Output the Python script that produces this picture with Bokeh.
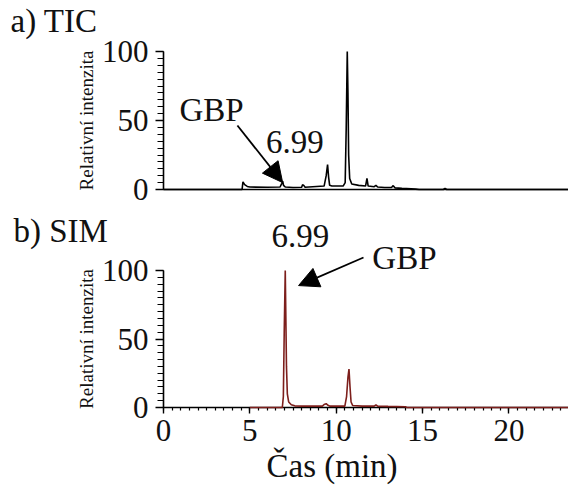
from bokeh.plotting import figure
from bokeh.layouts import column
from bokeh.models import Range1d, Label, Arrow, NormalHead, FixedTicker
from bokeh.embed import file_html
from bokeh.resources import INLINE

# ---- data ----
tic_time = [0.0, 4.55, 4.6, 4.7, 4.85, 5.0, 6.0, 6.75, 6.85, 6.9, 6.95, 7.05, 7.5,
            8.0, 8.05, 8.12, 8.2, 9.3, 9.42, 9.5, 9.56, 9.62, 9.75, 10.4, 10.52,
            10.58, 10.64, 10.68, 10.72, 10.78, 10.9, 11.3, 11.7, 11.78, 11.85,
            12.2, 12.3, 12.4, 12.8, 13.2, 13.3, 13.4, 13.8, 14.6, 14.8, 16.2,
            16.3, 16.4, 23.45]
tic_int = [0.0, 0.0, 5.5, 3.5, 2.2, 1.8, 1.6, 1.8, 4.5, 6.0, 3.0, 1.8, 1.5,
           1.6, 3.5, 3.0, 1.6, 2.5, 10.0, 18.0, 9.0, 3.0, 2.5, 2.5, 5.0,
           45.0, 100.0, 70.0, 25.0, 8.0, 4.0, 3.0, 2.5, 8.0, 2.5,
           2.0, 3.0, 1.8, 1.5, 1.5, 2.8, 1.2, 0.8, 0.3, 0.0, 0.0,
           0.8, 0.0, 0.0]

sim_time = [5.0, 6.88, 6.94, 6.99, 7.05, 7.08, 7.12, 7.17, 7.25, 7.4, 7.6, 8.0,
            9.2, 9.3, 9.42, 9.5, 9.62, 10.5, 10.6, 10.68, 10.74, 10.8, 10.86,
            10.95, 11.5, 12.2, 12.3, 12.4, 13.0, 14.0, 14.1, 23.45]
sim_int = [0.0, 0.0, 8.0, 55.0, 100.0, 70.0, 30.0, 10.0, 4.0, 2.0, 1.2, 1.0,
           1.0, 2.2, 2.8, 1.8, 1.0, 1.0, 8.0, 22.0, 28.0, 15.0, 4.0,
           1.5, 1.0, 1.0, 2.0, 1.0, 0.8, 0.6, 0.0, 0.0]

x_ticks = [0, 5, 10, 15, 20]
y_ticks = [0, 50, 100]

FONT = "Liberation Serif"
TICK_SIZE = "31px"
TEXT_SIZE = "33px"
SIM_COLOR = "#7d1f1c"
INK = "#111111"

X_START, X_END = -9.438, 23.45


def make_fig(height, y0, y1):
    p = figure(width=568, height=height, output_backend="svg",
               toolbar_location=None, x_range=Range1d(X_START, X_END),
               y_range=Range1d(y0, y1), min_border=0,
               min_border_left=0, min_border_right=0,
               min_border_top=0, min_border_bottom=0)
    p.outline_line_color = None
    p.xgrid.visible = False
    p.ygrid.visible = False
    p.background_fill_color = "white"
    p.border_fill_color = "white"

    ax = p.yaxis[0]
    ax.fixed_location = 0
    ax.bounds = (0, 100)
    ax.ticker = FixedTicker(ticks=y_ticks, minor_ticks=list(range(0, 101, 5)))
    ax.major_label_text_font = FONT
    ax.major_label_text_font_size = TICK_SIZE
    ax.major_label_text_color = INK
    ax.major_label_standoff = 7
    ax.major_tick_out = 8
    ax.major_tick_in = 0
    ax.minor_tick_out = 6
    ax.minor_tick_in = 0
    ax.axis_line_width = 1.6
    ax.major_tick_line_width = 1.4
    ax.minor_tick_line_width = 1.2
    ax.axis_label = "Relativní intenzita"
    ax.axis_label_text_font = FONT
    ax.axis_label_text_font_size = "19px"
    ax.axis_label_text_font_style = "normal"
    ax.axis_label_text_color = INK
    ax.axis_label_standoff = 2

    xa = p.xaxis[0]
    xa.fixed_location = 0
    xa.bounds = (0, X_END)
    xa.axis_line_width = 1.6
    return p


def text(p, x, y, s, align="center"):
    p.add_layout(Label(x=x, y=y, text=s, text_font=FONT,
                       text_font_size=TEXT_SIZE, text_align=align,
                       text_baseline="alphabetic", text_color=INK))


# ---- a) TIC ----  (canvas rows 0..206; y=100 at 51px, y=0 at 189px)
p1 = make_fig(206, -17 / 1.38, 189 / 1.38)
p1.line(tic_time, tic_int, line_color="black", line_width=1.6)
xa1 = p1.xaxis[0]
xa1.ticker = FixedTicker(ticks=[], minor_ticks=[])
xa1.major_tick_line_color = None
xa1.minor_tick_line_color = None

text(p1, -8.86, 122.4, "a) TIC", align="left")
text(p1, 2.78, 57.5, "GBP")
text(p1, 7.6, 34.5, "6.99")
p1.add_layout(Arrow(x_start=4.28, y_start=46.4, x_end=6.9, y_end=5.0,
                    line_width=1.8, line_color="black",
                    end=NormalHead(size=20, fill_color="black",
                                   line_color="black")))

# ---- b) SIM ----  (canvas rows 206..495; y=100 at 270px, y=0 at 407px)
p2 = make_fig(289, -88 / 1.37, 201 / 1.37)
r = p2.line(sim_time, sim_int, line_color=SIM_COLOR, line_width=1.6)
r.level = "overlay"
xa2 = p2.xaxis[0]
xa2.ticker = FixedTicker(ticks=x_ticks,
                         minor_ticks=[i * 0.5 for i in range(0, 47)])
xa2.major_label_text_font = FONT
xa2.major_label_text_font_size = TICK_SIZE
xa2.major_label_text_color = INK
xa2.major_label_standoff = 6
xa2.major_tick_out = 6
xa2.major_tick_in = 0
xa2.minor_tick_out = 3
xa2.minor_tick_in = 0
xa2.major_tick_line_width = 1.4
xa2.minor_tick_line_width = 1.2

text(p2, -8.69, 129.0, "b) SIM", align="left")
text(p2, 7.93, 125.0, "6.99")
text(p2, 13.95, 109.0, "GBP")
p2.add_layout(Arrow(x_start=11.58, y_start=109.5, x_end=7.82, y_end=89,
                    line_width=1.8, line_color="black",
                    end=NormalHead(size=20, fill_color="black",
                                   line_color="black")))
text(p2, 9.76, -43.0, "Čas (min)")

layout = column(p1, p2, spacing=0)
open("out.html", "w").write(file_html(layout, INLINE))
